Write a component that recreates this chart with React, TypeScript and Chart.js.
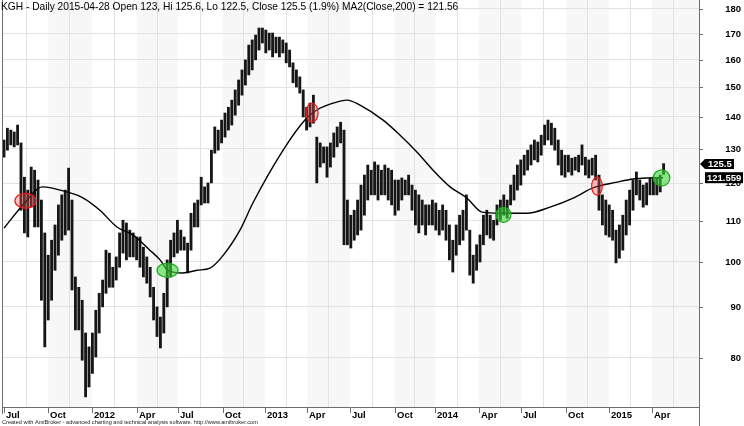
import React, { useEffect, useRef } from "react";
import { Chart, registerables } from "chart.js";

Chart.register(...registerables);

// ---- DATA (weekly high / low of the daily bars, weeks since 1 Jul 2011) ----
const weekHigh = [
  132.7, 136.4, 135.8, 135.2, 137.4, 131.8, 121.7, 118.1, 124.6, 123.7,
  120.9, 115.4, 106.9, 101.5, 105.1, 108.9, 114.1, 116.8, 118.1, 124.3,
  115.4, 96.5, 94.2, 91.4, 84.7, 82.0, 84.7, 89.3, 92.9, 95.8,
  102.7, 102.0, 98.7, 101.1, 106.9, 110.1, 109.4, 107.6, 106.9, 105.9,
  105.9, 103.4, 101.1, 98.7, 94.2, 90.0, 87.9, 92.9, 100.4, 105.1,
  106.9, 110.1, 107.6, 105.9, 104.4, 111.9, 114.6, 115.4, 121.7, 119.0,
  120.1, 129.6, 136.8, 135.8, 139.0, 141.3, 143.2, 145.6, 149.1, 152.6,
  156.2, 159.9, 165.5, 167.5, 169.4, 172.2, 172.2, 171.4, 170.2, 170.2,
  168.6, 168.6, 167.5, 166.3, 163.6, 158.8, 156.2, 153.7, 149.1, 143.2,
  144.6, 147.3, 133.6, 131.8, 130.6, 130.6, 131.8, 134.9, 136.8, 138.3,
  135.8, 115.4, 111.4, 112.7, 115.4, 119.5, 122.3, 125.2, 123.7, 126.1,
  125.2, 123.7, 125.2, 124.3, 123.7, 120.9, 120.9, 121.5, 120.9, 122.3,
  119.5, 118.1, 116.8, 115.4, 114.1, 114.1, 115.4, 114.6, 112.7, 114.1,
  112.7, 108.9, 105.1, 108.9, 111.4, 112.7, 116.8, 107.6, 101.5, 104.0,
  106.4, 111.4, 112.7, 111.4, 110.1, 114.1, 115.4, 116.8, 115.4, 119.5,
  122.3, 125.2, 126.7, 128.1, 129.6, 131.2, 132.7, 132.1, 134.2, 137.4,
  139.0, 138.0, 136.4, 132.7, 129.6, 128.1, 128.1, 127.2, 127.5, 128.1,
  131.2, 127.5, 126.7, 127.2, 128.1, 122.3, 116.8, 115.4, 114.1, 112.7,
  107.6, 108.9, 111.4, 115.4, 118.1, 120.9, 123.2, 120.9, 119.5, 120.1,
  121.5, 121.7, 121.5, 122.3, 125.6,
];
const weekLow = [
  127.5, 129.6, 131.2, 130.6, 131.2, 112.7, 106.9, 105.9, 113.5, 108.4,
  108.4, 91.4, 82.0, 87.3, 91.4, 98.0, 101.5, 105.1, 106.4, 107.6,
  93.6, 85.3, 85.3, 79.5, 73.0, 74.7, 77.1, 80.1, 84.7, 90.0,
  92.9, 94.2, 94.2, 95.8, 98.7, 102.0, 100.4, 101.1, 101.1, 100.4,
  98.7, 96.5, 95.1, 92.1, 87.3, 84.0, 81.8, 84.7, 90.0, 96.5,
  101.1, 102.0, 102.7, 102.7, 97.4, 102.7, 108.4, 108.4, 114.1, 114.6,
  114.6, 120.1, 128.7, 129.6, 131.8, 133.6, 135.8, 137.4, 140.6, 143.9,
  147.3, 150.8, 154.4, 156.2, 159.9, 163.6, 166.3, 162.5, 163.6, 161.0,
  162.5, 161.0, 162.5, 158.8, 157.3, 151.6, 150.1, 148.0, 140.0, 135.8,
  136.8, 138.0, 120.1, 124.6, 125.8, 121.7, 124.6, 127.5, 130.6, 131.8,
  104.0, 104.0, 103.2, 105.1, 106.4, 107.6, 111.4, 115.4, 116.8, 116.8,
  115.4, 116.8, 116.8, 115.4, 114.1, 111.4, 112.7, 115.4, 116.8, 116.8,
  112.7, 108.9, 106.9, 108.9, 106.4, 108.9, 108.9, 107.6, 106.4, 107.6,
  105.1, 100.4, 97.6, 101.5, 104.0, 105.1, 107.6, 96.9, 95.1, 98.0,
  99.9, 104.0, 106.4, 105.6, 105.1, 108.9, 110.1, 111.4, 110.6, 114.1,
  115.4, 118.1, 119.5, 122.3, 123.7, 125.2, 126.7, 126.1, 128.1, 131.2,
  132.7, 131.2, 129.6, 125.2, 122.3, 121.7, 123.2, 122.3, 123.7, 123.2,
  125.2, 122.3, 121.5, 122.3, 120.9, 112.7, 108.9, 106.4, 105.9, 105.1,
  99.7, 100.8, 102.7, 106.4, 108.9, 112.7, 116.8, 115.4, 113.5, 114.1,
  116.8, 116.8, 116.8, 117.6, 122.5,
];

// MA(Close,200)
const maWeek = [
  0, 6.3, 11.2, 18.5, 23.2, 28.2, 33.2, 37.9, 42.9, 45.9, 48.2, 52.6, 56.8,
  60.6, 64.1, 69.4, 73.2, 82.1, 88.5, 92, 96.8, 100.9, 104.7, 111.5, 116.5,
  121.5, 126.2, 131.2, 136.2, 140.6, 145.9, 153.8, 160.6, 167.4, 173.2, 180.3,
  185, 190, 193.8,
];
const maValue = [
  108.1, 114.9, 119.0, 117.6, 116.0, 112.7, 108.4, 106.4, 102.7, 100.4, 98.0,
  97.4, 98.0, 98.5, 101.1, 107.6, 114.6, 129.6, 139.0, 142.3, 144.6, 145.6,
  143.9, 139.0, 134.2, 129.0, 123.7, 119.0, 115.9, 112.2, 111.9, 111.9, 113.5,
  115.9, 118.7, 120.3, 121.2, 121.5, 121.559,
];

// crossover markers
const crossWeek = [6.3, 48.1, 90.6, 146.9, 174.4, 193.4];
const crossValue = [115.2, 98.0, 141.4, 111.5, 119.2, 121.5];
const crossKind = ["sell", "buy", "sell", "buy", "sell", "buy"];

// axis ticks
const quarterPos = [
  0, 13.03, 25.79, 39.03, 51.09, 64.32, 76.76, 89.21, 101.76, 114.91, 126.85,
  139.62, 152.15, 165.38, 177.85, 190.59,
];
const quarterLabels = [
  "Jul", "Oct", "2012", "Apr", "Jul", "Oct", "2013", "Apr", "Jul", "Oct",
  "2014", "Apr", "Jul", "Oct", "2015", "Apr",
];
const yTicks = [80, 90, 100, 110, 120, 130, 140, 150, 160, 170, 180];

const lastClose = 125.5;
const lastMA = 121.559;
const titleText =
  "KGH - Daily 2015-04-28 Open 123, Hi 125.6, Lo 122.5, Close 125.5 (1.9%) MA2(Close,200) = 121.56";
const footerText =
  "Created with AmiBroker - advanced charting and technical analysis software. http://www.amibroker.com";

// ---- styles ----
const FONT = '"Liberation Sans", Arial, sans-serif';
const crossRadii = [
  [10.5, 7.5],
  [10.5, 7],
  [6, 9.5],
  [7.5, 7.5],
  [5.3, 9],
  [8.3, 8],
];

const overlay = {
  id: "overlay",
  beforeDraw(chart: any) {
    const { ctx, chartArea: a, scales } = chart;
    const x = scales.x;
    ctx.save();
    ctx.fillStyle = "#ffffff";
    ctx.fillRect(0, 0, chart.width, chart.height);
    for (let i = 0; i < quarterPos.length; i++) {
      if (i % 2 === 1) {
        const x0 = x.getPixelForValue(quarterPos[i]);
        const x1 =
          i + 1 < quarterPos.length ? x.getPixelForValue(quarterPos[i + 1]) : a.right;
        ctx.fillStyle = "#f7f7f7";
        ctx.fillRect(x0, a.top, x1 - x0, a.bottom - a.top);
      }
    }
    ctx.restore();
  },
  afterDatasetsDraw(chart: any) {
    const { ctx, scales } = chart;
    ctx.save();
    for (let i = 0; i < crossWeek.length; i++) {
      const cx = scales.x.getPixelForValue(crossWeek[i]);
      const cy = scales.y.getPixelForValue(crossValue[i]);
      const [rx, ry] = crossRadii[i];
      ctx.beginPath();
      ctx.ellipse(cx, cy, rx, ry, 0, 0, Math.PI * 2);
      if (crossKind[i] === "buy") {
        ctx.fillStyle = "rgba(60, 220, 60, 0.6)";
        ctx.strokeStyle = "#1fa21f";
      } else {
        ctx.fillStyle = "rgba(255, 90, 90, 0.35)";
        ctx.strokeStyle = "#e81818";
      }
      ctx.lineWidth = 1.2;
      ctx.fill();
      ctx.stroke();
    }
    ctx.restore();
  },
  afterDraw(chart: any) {
    const { ctx, chartArea: a, scales } = chart;
    const x = scales.x;
    const y = scales.y;
    ctx.save();
    // axis lines
    ctx.strokeStyle = "#6e6e6e";
    ctx.lineWidth = 1;
    ctx.beginPath();
    ctx.moveTo(Math.round(a.left) + 0.5, 0);
    ctx.lineTo(Math.round(a.left) + 0.5, 414);
    ctx.moveTo(Math.round(a.left), Math.round(a.bottom) + 0.5);
    ctx.lineTo(Math.round(a.right), Math.round(a.bottom) + 0.5);
    ctx.moveTo(Math.round(a.right) + 0.5, 0);
    ctx.lineTo(Math.round(a.right) + 0.5, chart.height);
    ctx.stroke();

    // x labels + tick marks
    ctx.font = `bold 9.5px ${FONT}`;
    ctx.fillStyle = "#000";
    ctx.textAlign = "left";
    ctx.textBaseline = "alphabetic";
    for (let i = 0; i < quarterPos.length; i++) {
      const px = Math.round(x.getPixelForValue(quarterPos[i]));
      ctx.strokeStyle = "#6e6e6e";
      ctx.beginPath();
      ctx.moveTo(px + 0.5, a.bottom + 1);
      ctx.lineTo(px + 0.5, a.bottom + 6);
      ctx.stroke();
      ctx.fillText(quarterLabels[i], px + 2, a.bottom + 10.5);
    }

    // y labels + tick marks
    ctx.textAlign = "right";
    ctx.textBaseline = "middle";
    for (const v of yTicks) {
      const py = Math.round(y.getPixelForValue(v));
      ctx.strokeStyle = "#6e6e6e";
      ctx.beginPath();
      ctx.moveTo(a.right, py + 0.5);
      ctx.lineTo(a.right + 4, py + 0.5);
      ctx.stroke();
      ctx.fillText(String(v), 741, py + 0.5);
    }

    // value tags
    const yc = y.getPixelForValue(lastClose);
    ctx.fillStyle = "#000";
    ctx.beginPath();
    ctx.moveTo(a.right + 1, yc);
    ctx.lineTo(a.right + 6, yc - 5);
    ctx.lineTo(734, yc - 5);
    ctx.lineTo(734, yc + 5);
    ctx.lineTo(a.right + 6, yc + 5);
    ctx.closePath();
    ctx.fill();
    ctx.fillStyle = "#fff";
    ctx.textAlign = "left";
    ctx.fillText(String(lastClose), 708, yc + 0.5);

    const ym = y.getPixelForValue(lastMA);
    ctx.fillStyle = "#000";
    ctx.fillRect(705, ym - 5.5, 38, 11);
    ctx.fillStyle = "#fff";
    ctx.fillText(String(lastMA), 707, ym + 0.5);

    // title
    ctx.fillStyle = "#000";
    ctx.font = `10.2px ${FONT}`;
    ctx.textAlign = "left";
    ctx.textBaseline = "alphabetic";
    ctx.fillText(titleText, 1, 9.5);

    // footer
    ctx.font = `5.6px ${FONT}`;
    ctx.fillStyle = "#222";
    ctx.fillText(footerText, 2, 424);
    ctx.restore();
  },
};

export default function App() {
  const ref = useRef<HTMLCanvasElement>(null);
  useEffect(() => {
    const chart = new Chart(ref.current as HTMLCanvasElement, {
      type: "bar",
      data: {
        datasets: [
          {
            type: "line",
            label: "MA",
            data: maWeek.map((w, i) => ({ x: w, y: maValue[i] })),
            borderColor: "#000",
            borderWidth: 1.4,
            pointRadius: 0,
            cubicInterpolationMode: "monotone",
            order: 0,
          } as any,
          {
            type: "bar",
            label: "Price",
            data: weekHigh.map((h, i) => ({ x: i, y: [weekLow[i], h] })),
            backgroundColor: "#161616",
            borderWidth: 0,
            barThickness: 2.2,
            grouped: false,
            order: 1,
          } as any,
        ],
      },
      options: {
        animation: false,
        responsive: false,
        devicePixelRatio: 1,
        layout: { padding: { left: 2, right: 45, top: 0, bottom: 19 } },
        plugins: { legend: { display: false }, tooltip: { enabled: false } },
        scales: {
          x: {
            type: "linear",
            min: -0.588,
            max: 204.41,
            bounds: "data",
            offset: false,
            ticks: { display: false },
            border: { display: false },
            grid: { color: "#e2e2e2", drawTicks: false },
            afterBuildTicks: (s: any) => {
              s.ticks = quarterPos.map((v) => ({ value: v }));
            },
          },
          y: {
            type: "logarithmic",
            position: "right",
            min: 71.3,
            max: 183.8,
            bounds: "data",
            ticks: { display: false },
            border: { display: false },
            grid: { color: "#e2e2e2", drawTicks: false },
            afterBuildTicks: (s: any) => {
              s.ticks = yTicks.map((v) => ({ value: v }));
            },
          },
        },
      } as any,
      plugins: [overlay],
    });
    return () => chart.destroy();
  }, []);
  return (
    <div
      style={{
        position: "fixed",
        left: 0,
        top: 0,
        width: 744,
        height: 426,
        background: "#fff",
      }}
    >
      <canvas
        ref={ref}
        width={744}
        height={426}
        style={{ display: "block", width: 744, height: 426 }}
      />
    </div>
  );
}
